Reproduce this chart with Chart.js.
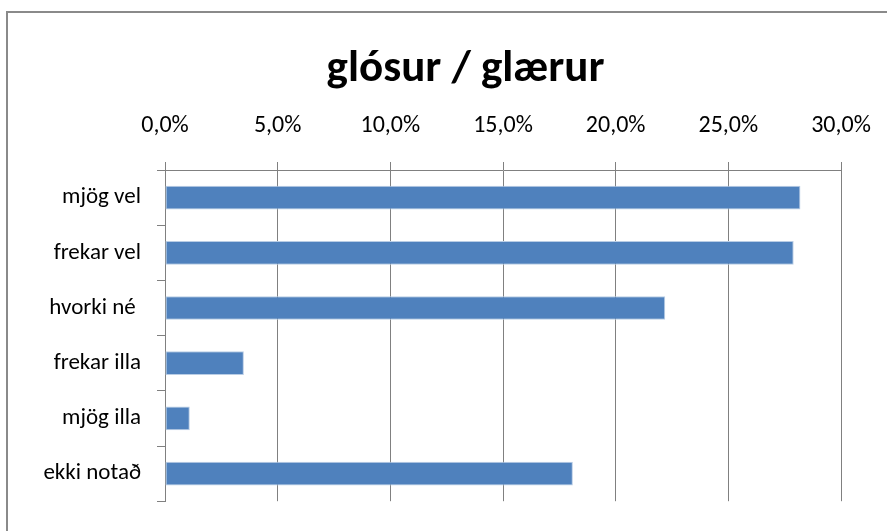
<!DOCTYPE html>
<html>
<head>
<meta charset="utf-8">
<script src="https://cdn.jsdelivr.net/npm/chart.js@4"></script>
<style>
  body { margin: 0; background: #fff; }
  #wrap { position: relative; width: 887px; height: 531px; overflow: hidden; }
  #frame {
    position: absolute; left: 6px; top: 11px; width: 900px; height: 600px;
    border-left: 2px solid #8a8a8a; border-top: 2px solid #8a8a8a;
  }
  canvas { position: absolute; left: 0; top: 0; }
</style>
</head>
<body>
<div id="wrap">
  <div id="frame"></div>
  <canvas id="chart" width="887" height="531"></canvas>
</div>
<script>
const chartTitle = "glósur / glærur";
const categories = ["mjög vel", "frekar vel", "hvorki né ", "frekar illa", "mjög illa", "ekki notað"];
const percentages = [28.2, 27.9, 22.2, 3.5, 1.1, 18.1];
const tickLabels = ["0,0%", "5,0%", "10,0%", "15,0%", "20,0%", "25,0%", "30,0%"];

const fontFamily = "Carlito, Calibri, Lato, sans-serif";
const gridColor = "#808080";

const ctx = document.getElementById("chart").getContext("2d");

// left padding of 44 puts the title centre where the original has it;
// the y axis then gets the remaining 121px so the plot still starts at x=165
new Chart(ctx, {
  type: "bar",
  data: {
    labels: categories,
    datasets: [
      {
        data: percentages,
        backgroundColor: "#4f81bd",
        borderColor: "#b9cde5",
        borderWidth: 1,
        borderSkipped: false,
        barPercentage: 0.43,
        categoryPercentage: 1,
      },
    ],
  },
  options: {
    indexAxis: "y",
    responsive: false,
    animation: false,
    layout: {
      padding: { left: 44, right: 0, top: 0, bottom: 17 },
    },
    scales: {
      x: {
        position: "top",
        min: 0,
        max: 30,
        ticks: {
          stepSize: 5,
          color: "#000",
          padding: 22,
          font: { family: fontFamily, size: 24 },
          callback: (value, index) => tickLabels[index],
        },
        grid: {
          color: gridColor,
          lineWidth: 1,
          tickLength: 8,
        },
        border: { color: gridColor, width: 1 },
        afterFit: (scale) => {
          scale.height = 73;
          scale.paddingRight = 46;
        },
      },
      y: {
        ticks: {
          color: "#000",
          padding: 16,
          font: { family: fontFamily, size: 23 },
        },
        grid: {
          color: gridColor,
          drawOnChartArea: false,
          tickLength: 8,
          offset: true,
        },
        border: { color: gridColor, width: 1 },
        afterFit: (scale) => {
          scale.width = 121;
        },
      },
    },
    plugins: {
      legend: { display: false },
      tooltip: { enabled: false },
      title: {
        display: true,
        text: chartTitle,
        color: "#000",
        font: { family: fontFamily, size: 45, weight: "bold" },
        padding: { top: 43, bottom: 0 },
      },
    },
  },
});
</script>
</body>
</html>
